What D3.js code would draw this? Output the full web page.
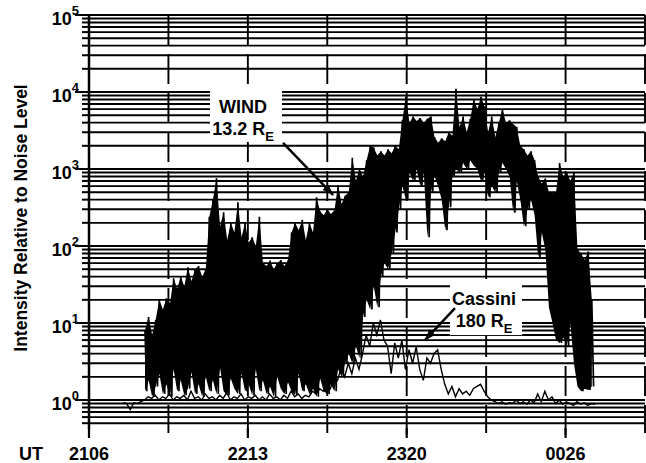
<!DOCTYPE html>
<html>
<head>
<meta charset="utf-8">
<script src="https://cdn.jsdelivr.net/npm/d3@7"></script>
<style>
body { margin: 0; background: #fff; }
svg text { font-family: "Liberation Sans", Arial, sans-serif; font-weight: bold; fill: #000; }
</style>
</head>
<body>
<div id="chart"></div>
<script>
var width = 646, height = 463;
var margin = {top: 15, left: 89, right: 1, bottom: 35};

// x values are minutes after 21:06:20 UT
var xTicks = [0, 33.33, 66.67, 100, 133.33, 166.67, 200, 233.33];
var xLabelTicks = [0, 66.67, 133.33, 200];
var xLabels = ["2106", "2213", "2320", "0026"];
var yLabelExps = [0, 1, 2, 3, 4, 5];

// WIND: upper and lower envelope of each 1.5 min sample
var windStart = 23.5, windStep = 1.5;
var windHi = [8,12,7,11,20,15,21,18,38,28,
  40,30,53,35,50,55,40,50,240,400,
  760,180,275,120,200,150,370,130,200,110,
  130,100,240,60,55,65,50,60,66,55,
  65,150,200,160,220,120,200,150,430,280,
  250,300,260,290,620,350,450,500,1400,700,
  1000,800,1300,2000,1900,1500,1700,1500,1800,1600,
  2000,1800,4300,8700,4000,4800,4200,4600,4000,4500,
  4800,2600,2200,2500,2300,3000,2700,11000,3500,4800,
  3000,4500,8000,6000,8700,6500,3000,4800,2600,4000,
  6000,4000,4300,3800,3500,2000,1800,1500,1700,1300,
  800,650,750,500,480,500,1200,800,900,700,
  900,90,80,66,85,20];
var windLo = [1.3,1.8,1.1,1.5,2.2,1.2,1.6,1.1,2.5,1.3,
  1.8,1.15,1.4,2.3,1.2,1.6,1.1,2.0,1.3,1.8,
  1.2,2.6,1.3,1.15,1.9,1.4,1.2,2.2,1.3,1.6,
  1.15,2.5,1.3,1.8,1.2,1.5,1.1,2.0,1.4,1.2,
  1.7,1.3,1.15,2.2,1.3,1.6,1.2,1.4,1.1,1.9,
  1.3,1.2,1.6,1.3,2.5,2.0,3.0,4.0,3.0,5.0,
  3.5,12,20,15,30,16,40,60,50,80,
  150,300,600,400,900,700,1000,600,900,130,
  500,800,600,400,160,320,800,1000,900,1200,
  1000,1300,1100,1000,700,900,430,600,500,900,
  1200,1000,800,270,700,400,180,300,400,250,
  72,150,90,16,10,6,5.5,6.5,5,10,
  3,1.5,1.3,1.4,1.35,1.5];

var cassiniStart = 14.3, cassiniStep = 1.5;
var cassini = [0.92,0.9,0.75,0.92,0.9,0.95,1.0,1.1,1.05,1.15,
  1.0,1.1,1.05,1.2,1.0,1.1,1.05,1.15,1.0,1.3,
  1.05,1.1,1.0,1.2,1.05,1.1,1.0,1.15,1.05,1.25,
  1.0,1.1,1.05,1.2,1.0,1.1,1.05,1.15,1.0,1.1,
  1.0,1.2,1.05,1.1,1.0,1.15,1.05,1.3,1.1,1.2,
  1.05,1.15,1.1,1.3,1.2,1.4,1.3,1.6,1.4,2.0,
  1.8,2.6,2.0,3.0,2.2,3.5,2.5,4.0,7.0,5.0,
  10,7,11,6,5,2.2,5.5,3.5,6,2.5,
  4.5,3.0,4.9,2.5,1.8,3.5,3.0,4.0,4.5,2.5,
  1.6,1.2,1.5,1.1,1.4,1.2,1.3,1.15,1.4,1.5,
  1.6,1.3,1.1,1.0,0.95,0.9,0.95,0.88,0.92,0.9,
  1.0,0.9,0.95,0.88,1.0,0.92,1.2,0.95,1.3,1.0,
  1.1,0.9,1.0,0.88,0.95,0.9,0.85,0.95,0.88,0.92,
  0.85,0.9,0.88];

var x = d3.scaleLinear()
    .domain([0, 233.33])
    .range([margin.left, width - margin.right]);

var y = d3.scaleLog()
    .domain([0.433, 1e5])
    .range([height - margin.bottom, margin.top]);

var svg = d3.select("#chart")
    .append("svg")
    .attr("width", width)
    .attr("height", height);

svg.append("defs").append("marker")
    .attr("id", "head")
    .attr("markerUnits", "userSpaceOnUse")
    .attr("viewBox", "0 0 12 8")
    .attr("refX", 11).attr("refY", 4)
    .attr("markerWidth", 12).attr("markerHeight", 8)
    .attr("orient", "auto")
    .append("path")
    .attr("d", "M0,0L12,4L0,8Z")
    .attr("fill", "#000");

// horizontal grid at every log tick
var gridVals = y.ticks();
svg.append("g").selectAll("line")
    .data(gridVals)
    .enter().append("line")
    .attr("x1", margin.left).attr("x2", width - margin.right)
    .attr("y1", function(d) { return y(d); })
    .attr("y2", function(d) { return y(d); })
    .attr("stroke", "#000")
    .attr("stroke-width", 1.9);

// vertical grid, broken lines
svg.append("g").selectAll("line")
    .data(xTicks.slice(1))
    .enter().append("line")
    .attr("x1", function(d) { return x(d); })
    .attr("x2", function(d) { return x(d); })
    .attr("y1", margin.top)
    .attr("y2", function(d) { return y.range()[0] + (xLabelTicks.indexOf(d) >= 0 ? 10 : 5); })
    .attr("stroke", "#000")
    .attr("stroke-width", 1.9)
    .attr("stroke-dasharray", "30,9");

// left axis with ticks
svg.append("line")
    .attr("x1", margin.left).attr("x2", margin.left)
    .attr("y1", margin.top - 1).attr("y2", y.range()[0] + 1)
    .attr("stroke", "#000").attr("stroke-width", 2.5);

svg.append("g").selectAll("line")
    .data(gridVals)
    .enter().append("line")
    .attr("x1", function(d) {
        var e = Math.log10(d);
        return margin.left - (Math.abs(e - Math.round(e)) < 1e-6 ? 14 : 7);
    })
    .attr("x2", margin.left)
    .attr("y1", function(d) { return y(d); })
    .attr("y2", function(d) { return y(d); })
    .attr("stroke", "#000")
    .attr("stroke-width", 2);

// bottom ticks for labelled times
svg.append("g").selectAll("line")
    .data(xLabelTicks)
    .enter().append("line")
    .attr("x1", function(d) { return x(d); })
    .attr("x2", function(d) { return x(d); })
    .attr("y1", y.range()[0]).attr("y2", y.range()[0] + 10)
    .attr("stroke", "#000").attr("stroke-width", 2.2);

// y tick labels 10^n
var yl = svg.append("g").selectAll("text")
    .data(yLabelExps)
    .enter().append("text")
    .attr("x", 79)
    .attr("y", function(d) { return y(Math.pow(10, d)) + 10; })
    .attr("text-anchor", "end")
    .style("font-size", "18px");
yl.append("tspan").text("10");
yl.append("tspan")
    .attr("dy", -10)
    .style("font-size", "13px")
    .text(function(d) { return d; });

// x tick labels
svg.append("g").selectAll("text")
    .data(xLabelTicks)
    .enter().append("text")
    .attr("x", function(d) { return x(d); })
    .attr("y", 460)
    .attr("text-anchor", "middle")
    .style("font-size", "18px")
    .text(function(d, i) { return xLabels[i]; });

svg.append("text")
    .attr("x", 31).attr("y", 460)
    .attr("text-anchor", "middle")
    .style("font-size", "18px")
    .text("UT");

svg.append("text")
    .attr("transform", "translate(27," + 218 + ") rotate(-90)")
    .attr("text-anchor", "middle")
    .style("font-size", "17.5px")
    .text("Intensity Relative to Noise Level");

// WIND: filled band between the envelopes, zigzag stroke for the spikes
var windPts = [];
windHi.forEach(function(v, i) {
    var t = windStart + i * windStep;
    windPts.push([t, v]);
    windPts.push([t + windStep / 2, windLo[i]]);
});

var line = d3.line()
    .x(function(d) { return x(d[0]); })
    .y(function(d) { return y(d[1]); });

var band = d3.area()
    .x(function(d, i) { return x(windStart + i * windStep); })
    .y0(function(d, i) { return y(windLo[i]); })
    .y1(function(d) { return y(d); });

svg.append("path")
    .datum(windHi)
    .attr("d", band)
    .attr("fill", "#000");

svg.append("path")
    .datum(windPts)
    .attr("d", line)
    .attr("fill", "none")
    .attr("stroke", "#000")
    .attr("stroke-width", 1.7);

var cassPts = cassini.map(function(v, i) { return [cassiniStart + i * cassiniStep, v]; });
svg.append("path")
    .datum(cassPts)
    .attr("d", line)
    .attr("fill", "none")
    .attr("stroke", "#000")
    .attr("stroke-width", 1.4);

// annotations, anchored at the arrow tip
var notes = [
    {t: 102.4, v: 460, lines: ["WIND", "13.2 R"], sub: "E",
     box: [-123, -105, 72, 52], from: [-50, -52], tx: -90, ty: [-82, -60]},
    {t: 141, v: 6.0, lines: ["Cassini", "180 R"], sub: "E",
     box: [25, -58, 72, 53], from: [30, -32], tx: 59, ty: [-35, -13]}
];

notes.forEach(function(n) {
    var px = x(n.t), py = y(n.v);
    svg.append("rect")
        .attr("x", px + n.box[0]).attr("y", py + n.box[1])
        .attr("width", n.box[2]).attr("height", n.box[3])
        .attr("fill", "#fff");
    svg.append("line")
        .attr("x1", px + n.from[0]).attr("y1", py + n.from[1])
        .attr("x2", px).attr("y2", py)
        .attr("stroke", "#000").attr("stroke-width", 2.5)
        .attr("marker-end", "url(#head)");
    svg.append("text")
        .attr("x", px + n.tx).attr("y", py + n.ty[0])
        .attr("text-anchor", "middle")
        .style("font-size", "18px")
        .text(n.lines[0]);
    var t2 = svg.append("text")
        .attr("x", px + n.tx).attr("y", py + n.ty[1])
        .attr("text-anchor", "middle")
        .style("font-size", "18px");
    t2.append("tspan").text(n.lines[1]);
    t2.append("tspan").attr("dy", 6).style("font-size", "13px").text(n.sub);
});
</script>
</body>
</html>
